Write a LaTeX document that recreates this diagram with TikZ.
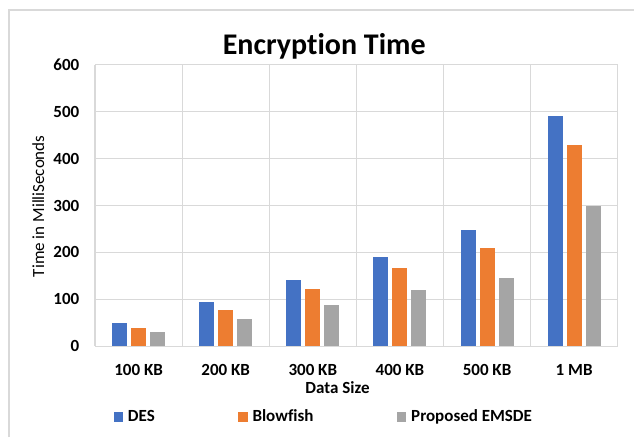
\documentclass[tikz,border=0pt]{standalone}
\usepackage{fontspec}
\setmainfont{Carlito}[Ligatures=NoCommon]
\definecolor{desc}{HTML}{4472C4}
\definecolor{bfc}{HTML}{ED7D31}
\definecolor{emc}{HTML}{A5A5A5}
\definecolor{gridc}{HTML}{D9D9D9}
\begin{document}
\begin{tikzpicture}[x=1pt,y=-1pt,
  gridline/.style={draw=gridc,line width=1.1pt},
  ticklbl/.style={font=\fontsize{17}{20}\selectfont\bfseries,inner sep=0pt,anchor=east},
  catlbl/.style={font=\fontsize{17}{20}\selectfont\bfseries,inner sep=0pt,anchor=base},
  leglbl/.style={font=\fontsize{17}{20}\selectfont\bfseries,inner sep=0pt,anchor=base west},
  axtitle/.style={font=\fontsize{17}{20}\selectfont,inner sep=0pt,anchor=base}]
\useasboundingbox (0,0) rectangle (634,437);
\fill[white] (0,0) rectangle (634,437);
\draw[gridc,line width=1.3pt] (9,437) -- (9,10) -- (634,10);
% title
\node[font=\fontsize{30}{34}\selectfont\bfseries,inner sep=0pt,anchor=base] (title) at (324.2,54.3) {Encryption Time};
% grid
\foreach \v in {0,...,6}{
  \draw[gridline] (95,{346.3-\v*46.93}) -- (617.7,{346.3-\v*46.93});
  \pgfmathtruncatemacro\lab{\v*100}
  \node[ticklbl] (tick\v) at (79.5,{346.3-\v*46.93}) {\lab};
}
\foreach \i in {0,...,6}{
  \draw[gridline] ({95+\i*87.12},65) -- ({95+\i*87.12},346.3);
}
% bars
\foreach \i/\a/\b/\c/\name in {0/50/40/30/100 KB,1/94/78/58/200 KB,2/141/122/87/300 KB,3/190/166/119/400 KB,4/247/210/146/500 KB,5/490/428/300/1 MB}{
  \pgfmathsetmacro\cx{95+87.12*(\i+0.5)}
  \fill[desc] ({\cx-26.5},346.3) rectangle ({\cx-11.5},{346.3-\a*0.4693});
  \fill[bfc]  ({\cx-7.5},346.3) rectangle ({\cx+7.5},{346.3-\b*0.4693});
  \fill[emc]  ({\cx+11.5},346.3) rectangle ({\cx+26.5},{346.3-\c*0.4693});
  \node[catlbl] (cat\i) at (\cx,375.7) {\name};
}
% axis titles
\node[axtitle] (xtitle) at (337.5,393.3) {\bfseries Data Size};
\node[axtitle,rotate=90] (ytitle) at (44,206.3) {Time in MilliSeconds};
% legend
\fill[desc] (114,412.3) rectangle (123.3,421.7);
\node[leglbl] (ldes) at (127.7,421.7) {DES};
\fill[bfc] (238.3,412.3) rectangle (247.6,421.7);
\node[leglbl] (lbf) at (252.3,421.7) {Blowfish};
\fill[emc] (396.7,412.3) rectangle (406,421.7);
\node[leglbl] (lem) at (411,421.7) {Proposed EMSDE};
\end{tikzpicture}
\end{document}
